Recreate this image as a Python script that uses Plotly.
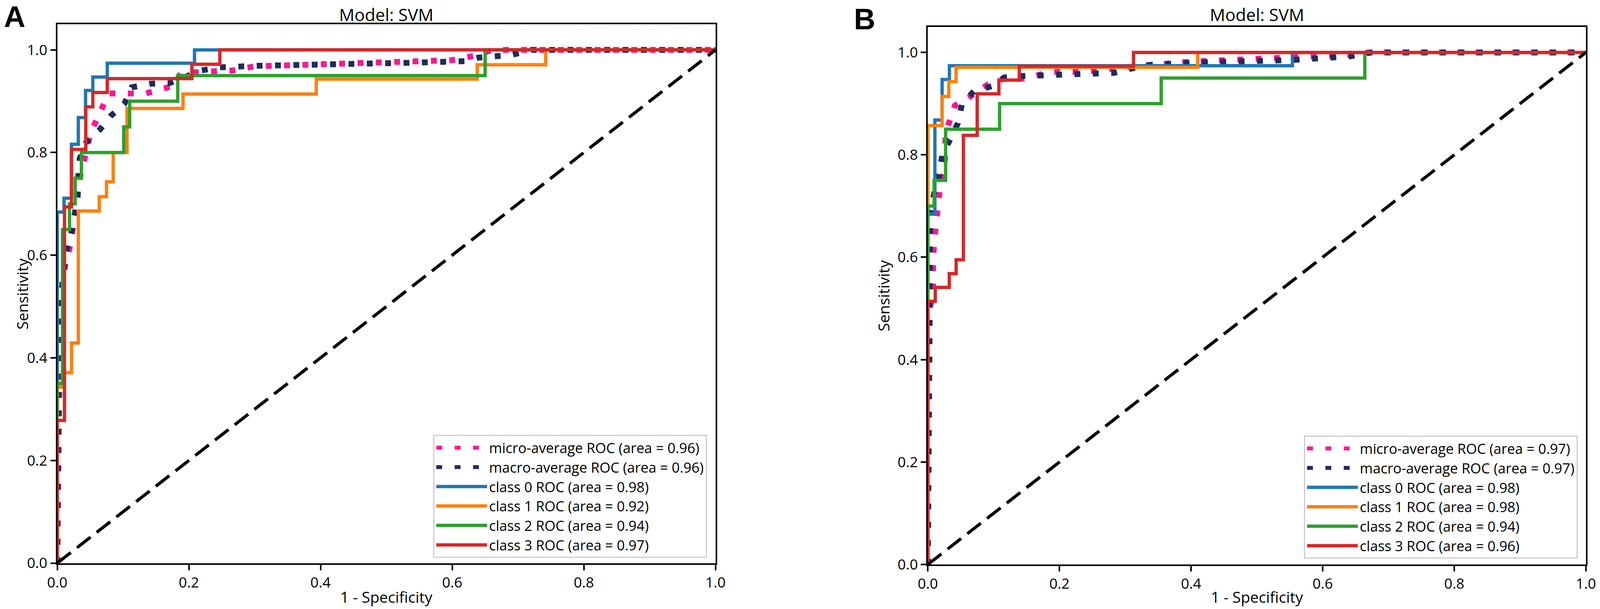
import plotly.graph_objects as go

# ---- panel A : ROC points (1 - specificity, sensitivity) ----
a_micro_fpr = [0, 0.003, 0.005, 0.012, 0.02, 0.024, 0.03, 0.034, 0.04, 0.046, 0.051, 0.06, 0.07, 0.078, 0.134, 0.156, 0.177, 0.188, 0.267, 0.30, 0.40, 0.54, 0.60, 0.64, 0.66, 1.0]
a_micro_tpr = [0, 0.35, 0.50, 0.58, 0.62, 0.654, 0.72, 0.75, 0.78, 0.81, 0.84, 0.864, 0.89, 0.915, 0.915, 0.923, 0.93, 0.955, 0.96, 0.968, 0.972, 0.976, 0.98, 0.99, 1.0, 1.0]
a_macro_fpr = [0, 0.002, 0.008, 0.0136, 0.0226, 0.031, 0.032, 0.034, 0.044, 0.065, 0.081, 0.102, 0.113, 0.141, 0.17, 0.193, 0.219, 0.247, 0.303, 0.54, 0.62, 0.64, 0.69, 0.72, 1.0]
a_macro_tpr = [0, 0.40, 0.55, 0.607, 0.65, 0.713, 0.753, 0.788, 0.82, 0.845, 0.871, 0.895, 0.927, 0.934, 0.935, 0.948, 0.96, 0.966, 0.969, 0.975, 0.978, 0.985, 0.99, 1.0, 1.0]

a_c0_fpr = [0, 0, 0.0103, 0.0216, 0.032, 0.043, 0.054, 0.076, 0.2085, 1.0]
a_c0_tpr = [0, 0.684, 0.711, 0.816, 0.868, 0.921, 0.947, 0.974, 1.0, 1.0]
a_c1_fpr = [0, 0, 0.0077, 0.0217, 0.032, 0.0638, 0.0748, 0.085, 0.106, 0.191, 0.3935, 0.638, 0.742, 1.0]
a_c1_tpr = [0, 0.343, 0.371, 0.429, 0.686, 0.714, 0.743, 0.80, 0.886, 0.914, 0.943, 0.971, 1.0, 1.0]
a_c2_fpr = [0, 0, 0.008, 0.0186, 0.0272, 0.0367, 0.101, 0.11, 0.183, 0.65, 1.0]
a_c2_tpr = [0, 0.35, 0.65, 0.70, 0.75, 0.80, 0.85, 0.90, 0.95, 1.0, 1.0]
a_c3_fpr = [0, 0, 0.011, 0.0216, 0.0433, 0.054, 0.076, 0.2045, 0.247, 1.0]
a_c3_tpr = [0, 0.278, 0.694, 0.806, 0.889, 0.917, 0.944, 0.972, 1.0, 1.0]
a_areas = ["0.96", "0.96", "0.98", "0.92", "0.94", "0.97"]

# ---- panel B ----
b_micro_fpr = [0, 0.003, 0.008, 0.008, 0.0127, 0.0157, 0.0187, 0.0247, 0.0267, 0.0267, 0.0328, 0.041, 0.059, 0.078, 0.092, 0.114, 0.14, 0.163, 0.185, 0.241, 0.265, 0.292, 0.40, 0.54, 0.64, 0.67, 1.0]
b_micro_tpr = [0, 0.50, 0.53, 0.602, 0.667, 0.70, 0.738, 0.769, 0.803, 0.842, 0.867, 0.896, 0.909, 0.924, 0.938, 0.948, 0.948, 0.954, 0.962, 0.962, 0.966, 0.97, 0.982, 0.988, 0.995, 1.0, 1.0]
b_macro_fpr = [0, 0.002, 0.0036, 0.0107, 0.0177, 0.0217, 0.0338, 0.0458, 0.052, 0.07, 0.097, 0.116, 0.145, 0.2, 0.283, 0.33, 0.40, 0.55, 0.64, 0.675, 1.0]
b_macro_tpr = [0, 0.50, 0.692, 0.73, 0.762, 0.798, 0.833, 0.862, 0.90, 0.924, 0.934, 0.951, 0.954, 0.957, 0.96, 0.975, 0.98, 0.985, 0.992, 1.0, 1.0]

b_c0_fpr = [0, 0, 0.0107, 0.0217, 0.0328, 0.554, 1.0]
b_c0_tpr = [0, 0.684, 0.868, 0.947, 0.974, 1.0, 1.0]
b_c1_fpr = [0, 0, 0.0217, 0.0318, 0.0428, 0.41, 1.0]
b_c1_tpr = [0, 0.857, 0.914, 0.943, 0.971, 1.0, 1.0]
b_c2_fpr = [0, 0, 0.0096, 0.027, 0.109, 0.3546, 0.664, 1.0]
b_c2_tpr = [0, 0.70, 0.75, 0.85, 0.90, 0.95, 1.0, 1.0]
b_c3_fpr = [0, 0, 0.0113, 0.0326, 0.043, 0.054, 0.075, 0.108, 0.139, 0.3125, 1.0]
b_c3_tpr = [0, 0.514, 0.541, 0.568, 0.595, 0.838, 0.919, 0.946, 0.973, 1.0, 1.0]
b_areas = ["0.97", "0.97", "0.98", "0.98", "0.94", "0.96"]

chance = [0, 1]
tick_vals = [0.0, 0.2, 0.4, 0.6, 0.8, 1.0]

FONT = "Open Sans"
# reference canvas in pixels, only used to turn pixel positions into fractions
W, H = 4318, 1559
class_colors = ["#1f77b4", "#ff7f0e", "#2ca02c", "#d62728"]

fig = go.Figure()


def add_panel(xa, ya, leg, micro, macro, classes, areas):
    fig.add_trace(go.Scatter(x=micro[0], y=micro[1], mode="lines", xaxis=xa, yaxis=ya, legend=leg,
                             line=dict(color="deeppink", width=15, dash="15px,32px"),
                             name="micro-average ROC (area = %s)" % areas[0]))
    fig.add_trace(go.Scatter(x=macro[0], y=macro[1], mode="lines", xaxis=xa, yaxis=ya, legend=leg,
                             line=dict(color="#1f2a5e", width=15, dash="15px,32px"),
                             name="macro-average ROC (area = %s)" % areas[1]))
    for i, (fpr, tpr) in enumerate(classes):
        fig.add_trace(go.Scatter(x=fpr, y=tpr, mode="lines", xaxis=xa, yaxis=ya, legend=leg,
                                 line=dict(color=class_colors[i], width=8.5, shape="hv"),
                                 name="class %d ROC (area = %s)" % (i, areas[i + 2])))
    fig.add_trace(go.Scatter(x=chance, y=chance, mode="lines", xaxis=xa, yaxis=ya, legend=leg,
                             line=dict(color="black", width=8, dash="44px,20px"), showlegend=False))


add_panel("x", "y", "legend", (a_micro_fpr, a_micro_tpr), (a_macro_fpr, a_macro_tpr),
          [(a_c0_fpr, a_c0_tpr), (a_c1_fpr, a_c1_tpr), (a_c2_fpr, a_c2_tpr), (a_c3_fpr, a_c3_tpr)], a_areas)
add_panel("x2", "y2", "legend2", (b_micro_fpr, b_micro_tpr), (b_macro_fpr, b_macro_tpr),
          [(b_c0_fpr, b_c0_tpr), (b_c1_fpr, b_c1_tpr), (b_c2_fpr, b_c2_tpr), (b_c3_fpr, b_c3_tpr)], b_areas)

axis_style = dict(range=[0, 1], tickvals=tick_vals, tickformat=".1f", ticks="outside", ticklen=14, tickwidth=4,
                  tickcolor="black", showline=True, linewidth=4, linecolor="black", mirror=True,
                  showgrid=False, zeroline=False, automargin=False,
                  tickfont=dict(family=FONT, size=37, color="black"))
yaxis_style = dict(axis_style, range=[0, 1.05])

leg_style = dict(xanchor="right", yanchor="bottom", bgcolor="rgba(255,255,255,0.85)", bordercolor="#cccccc",
                 borderwidth=3, font=dict(family=FONT, size=36, color="black"), itemwidth=130,
                 tracegroupgap=0)

fig.update_layout(
    autosize=True,
    margin=dict(l=0, r=0, t=0, b=0),
    paper_bgcolor="white", plot_bgcolor="white",
    xaxis=dict(axis_style, domain=[154.5 / W, 1931 / W], anchor="y"),
    yaxis=dict(yaxis_style, domain=[117.5 / H, 1497 / H], anchor="x"),
    xaxis2=dict(axis_style, domain=[2504 / W, 4280 / W], anchor="y2"),
    yaxis2=dict(yaxis_style, domain=[114 / H, 1490.4 / H], anchor="x2"),
    legend=dict(leg_style, x=1908 / W, y=131 / H),
    legend2=dict(leg_style, x=4258 / W, y=129 / H),
)

for cx, yl, lab, lx, ly, ymid in [
    (1043 / W, 60 / W, "A", 40 / W, 1 - 43 / H, (117.5 + 1497) / 2 / H),
    (3392 / W, 2384 / W, "B", 2333 / W, 1 - 48 / H, (114 + 1490.4) / 2 / H),
]:
    fig.add_annotation(text="Model: SVM", x=cx, y=1 - 37 / H, xref="paper", yref="paper",
                       showarrow=False, font=dict(family=FONT, size=44, color="black"),
                       xanchor="center", yanchor="middle")
    fig.add_annotation(text="1 - Specificity", x=cx, y=32 / H, xref="paper", yref="paper",
                       showarrow=False, font=dict(family=FONT, size=39, color="black"),
                       xanchor="center", yanchor="middle")
    fig.add_annotation(text="Sensitivity", x=yl, y=ymid, xref="paper", yref="paper", textangle=-90,
                       showarrow=False, font=dict(family=FONT, size=39, color="black"),
                       xanchor="center", yanchor="middle")
    fig.add_annotation(text="<b>%s</b>" % lab, x=lx, y=ly, xref="paper", yref="paper",
                       showarrow=False, font=dict(family="Liberation Sans", size=76, color="black"),
                       xanchor="center", yanchor="middle")

# let the figure fill the browser window exactly
fill_js = ("document.body.style.margin='0';document.body.style.overflow='hidden';"
           "Plotly.Plots.resize(document.getElementById('{plot_id}'));")
fig.write_html("out.html", default_width="100vw", default_height="100vh",
               config={"responsive": True, "displayModeBar": False}, post_script=fill_js)
